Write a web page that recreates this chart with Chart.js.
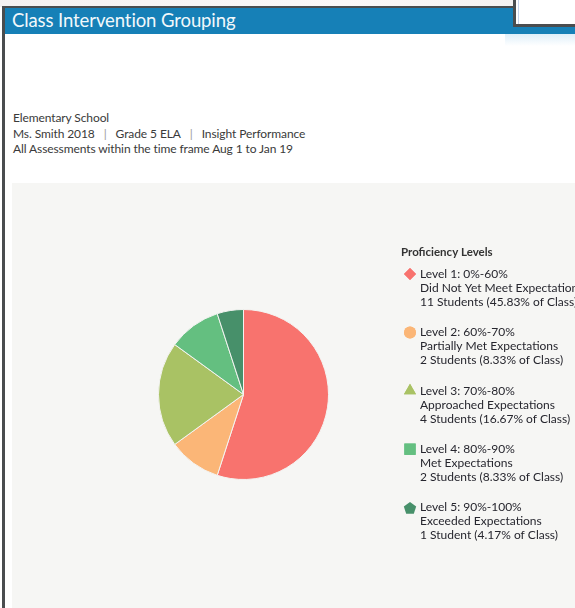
<!DOCTYPE html>
<html>
<head>
<meta charset="utf-8">
<title>Class Intervention Grouping</title>
<script src="https://cdn.jsdelivr.net/npm/chart.js@4.4.0/dist/chart.umd.min.js"></script>
<style>
  html, body { margin: 0; padding: 0; }
  body { width: 575px; height: 608px; overflow: hidden; background: #fff; position: relative; font-family: Lato, "Open Sans", sans-serif; }
  .topstrip { position: absolute; left: 0; top: 0; width: 575px; height: 7px; background: linear-gradient(90deg, #f4f1f1, #fbf8f8 60%, #f2f0ef); }
  .frame { position: absolute; left: 2px; top: 6px; width: 580px; height: 610px; border-left: 3px solid #4a4d4f; border-top: 2px solid #4a4d4f; background: #fff; }
  .header { position: absolute; left: 5px; top: 8px; width: 570px; height: 26px; background: #1680b7; color: #f2f8fb; font-size: 18.5px; line-height: 25px; padding-left: 7px; box-sizing: border-box; letter-spacing: -0.1px; }
  .popup { position: absolute; left: 513px; top: 0; width: 70px; height: 24px; background: #fff; border-left: 3px solid #4a4d4f; border-bottom: 3px solid #4a4d4f; }
  .popup .inner { position: absolute; left: 2px; top: 0; right: 0; bottom: 0; border-left: 1px solid #c9d4ea; }
  .glow { position: absolute; left: 505px; top: 34px; width: 70px; height: 12px; background: linear-gradient(180deg, rgba(200,228,245,0.6), rgba(255,255,255,0)); }
  .info { position: absolute; left: 13px; top: 110px; font-size: 12px; line-height: 15.5px; color: #3a3a3a; letter-spacing: -0.1px; }
  .info .sep { color: #9a9a9a; padding: 0 9px; }
  .panel { position: absolute; left: 12px; top: 183px; width: 563px; height: 425px; background: #f6f6f4; }
</style>
</head>
<body>
<div class="topstrip"></div>
<div class="frame"></div>
<div class="header">Class Intervention Grouping</div>
<div class="popup"><div class="inner"></div></div>
<div class="glow"></div>
<div class="info">
  Elementary School<br>
  Ms. Smith 2018<span class="sep">|</span>Grade 5 ELA<span class="sep">|</span>Insight Performance<br>
  All Assessments within the time frame Aug 1 to Jan 19
</div>
<div class="panel"><canvas id="groupChart" width="563" height="425"></canvas></div>

<script>
const levels = ['Level 1: 0%-60%', 'Level 2: 60%-70%', 'Level 3: 70%-80%', 'Level 4: 80%-90%', 'Level 5: 90%-100%'];
const descriptions = ['Did Not Yet Meet Expectations', 'Partially Met Expectations', 'Approached Expectations', 'Met Expectations', 'Exceeded Expectations'];
const students = [11, 2, 4, 2, 1];
const percentOfClass = [45.83, 8.33, 16.67, 8.33, 4.17];
const colors = ['#f8736e', '#fbb677', '#a9c264', '#64bf80', '#47906a'];
const markers = ['rectRot', 'circle', 'triangle', 'rect', 'pentagon'];
const markerRadius = [6, 6, 7, 8, 6.5];

// dibuja la leyenda a la derecha del pastel
const legendPlugin = {
    id: 'proficiencyLegend',
    afterDraw(chart) {
        const ctx = chart.ctx;
        const x = 389;
        let y = 69;
        ctx.save();
        ctx.textBaseline = 'middle';
        ctx.textAlign = 'left';
        ctx.fillStyle = '#333';
        ctx.font = 'bold 11.5px Lato';
        ctx.fillText('Proficiency Levels', x, y);

        y = 91;
        levels.forEach((level, i) => {
            const mx = x + 9, my = y;
            const r = markerRadius[i];
            ctx.fillStyle = colors[i];
            if (markers[i] === 'pentagon') {
                ctx.beginPath();
                for (let k = 0; k < 5; k++) {
                    const a = -Math.PI / 2 + k * 2 * Math.PI / 5;
                    const px = mx + r * Math.cos(a), py = my + 1 + r * Math.sin(a);
                    k === 0 ? ctx.moveTo(px, py) : ctx.lineTo(px, py);
                }
                ctx.closePath();
                ctx.fill();
            } else {
                Chart.helpers.drawPoint(ctx, {
                    pointStyle: markers[i], radius: r, rotation: 0, borderWidth: 0
                }, mx, my);
                ctx.fill();
            }
            ctx.fillStyle = '#26262e';
            ctx.font = '12px Lato';
            const n = students[i];
            const lines = [level, descriptions[i], `${n} Student${n === 1 ? '' : 's'} (${percentOfClass[i]}% of Class)`];
            lines.forEach((t, j) => ctx.fillText(t, x + 19, y + j * 14));
            y += 58.4;
        });
        ctx.restore();
    }
};

window.onload = function() {
    const ctx = document.getElementById('groupChart').getContext('2d');
    new Chart(ctx, {
        type: 'pie',
        data: {
            labels: levels,
            datasets: [{
                data: students,
                backgroundColor: colors,
                borderColor: '#f3f3f1',
                borderWidth: 1
            }]
        },
        options: {
            responsive: false,
            animation: false,
            layout: { padding: { left: 146, right: 246, top: 126, bottom: 128 } },
            plugins: {
                legend: { display: false },
                tooltip: { enabled: false }
            }
        },
        plugins: [legendPlugin]
    });
};
</script>
</body>
</html>
